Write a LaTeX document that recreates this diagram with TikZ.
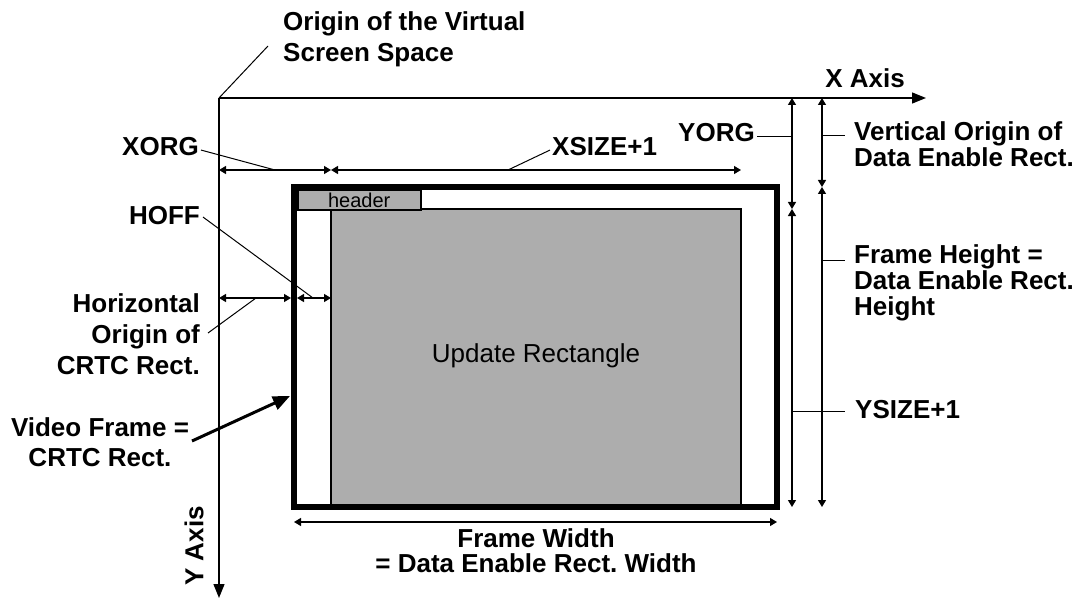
\documentclass[tikz,border=0pt]{standalone}
\usepackage{fontspec}
\setmainfont{Liberation Sans}
\usetikzlibrary{arrows.meta}
\definecolor{halftone}{gray}{0.68}
\begin{document}
\frenchspacing
\begin{tikzpicture}[x=1pt,y=-1pt,
  lbl/.style={font=\fontsize{26}{31}\selectfont\bfseries, inner sep=0pt},
  axisline/.style={line width=1.3pt, -{Triangle[length=14pt,width=11pt]}},
  dimline/.style={line width=1.3pt, {Triangle[length=7pt,width=8pt]}-{Triangle[length=7pt,width=8pt]}},
  leader/.style={line width=1pt},
  framebox/.style={line width=6pt},
  areabox/.style={draw, fill=halftone, line width=1.8pt},
]
\useasboundingbox (0,0) rectangle (1085,599);

% axes
\coordinate (O) at (219,98);
\coordinate (Xend) at (926,98);
\coordinate (Yend) at (219,598);
\draw[axisline] (O) -- (Xend);
\draw[axisline] (O) -- (Yend);
\node[lbl, anchor=base] (xax) at (865,88) {X Axis};
\node[lbl, rotate=90] (yax) at (194,546) {Y Axis};

% origin label (base = last line)
\node[lbl, align=left, anchor=base west, font=\fontsize{26}{31}\selectfont\bfseries] (orig) at (283,62) {Origin of the Virtual\\Screen Space};
\coordinate (origL) at (268,46);
\draw[leader] (O) -- (origL);

% update rectangle (data enable area)
\coordinate (U1) at (331,209);
\coordinate (U2) at (741,505);
\draw[areabox] (U1) rectangle (U2);
\node[font=\fontsize{26}{31}\selectfont, inner sep=0pt] (upd) at (536,356) {Update Rectangle};

% header
\node[draw, fill=halftone, line width=1.5pt, minimum width=123pt, minimum height=19pt,
      inner sep=0pt, anchor=north west, font=\fontsize{20}{24}\selectfont] (hdr) at (297,190) {header};

% video frame
\coordinate (F1) at (294,187);
\coordinate (F2) at (777,507);
\draw[framebox] (F1) rectangle (F2);

% XORG / XSIZE+1
\coordinate (xo1) at (219,170);
\coordinate (xo2) at (331,170);
\coordinate (xs2) at (741,170);
\draw[dimline] (xo1) -- (xo2);
\draw[dimline] (xo2) -- (xs2);
\node[lbl, anchor=base east] (xorg) at (199,156) {XORG};
\coordinate (xorgP) at (275,170);
\draw[leader] ([xshift=2pt,yshift=-3pt]xorg.east) -- (xorgP);
\node[lbl, anchor=base west] (xsize) at (552,156) {XSIZE+1};
\coordinate (xsizeP) at (508,170);
\draw[leader] ([xshift=-2pt,yshift=-3pt]xsize.west) -- (xsizeP);

% horizontal origin / HOFF
\coordinate (ho1) at (219,298);
\coordinate (ho2) at (291,298);
\coordinate (hf1) at (297,298);
\coordinate (hf2) at (331,298);
\draw[dimline] (ho1) -- (ho2);
\draw[dimline] (hf1) -- (hf2);
\node[lbl, anchor=base east] (hoff) at (200,224) {HOFF};
\coordinate (hoffP) at (313,298);
\draw[leader] ([xshift=3pt,yshift=-2pt]hoff.east) -- (hoffP);
\node[lbl, align=right, anchor=base east, font=\fontsize{26}{31}\selectfont\bfseries] (horg) at (200,374) {Horizontal\\Origin of\\CRTC Rect.};
\coordinate (horgS) at (208,333);
\coordinate (horgP) at (256,298);
\draw[leader] (horgS) -- (horgP);

% video frame label
\node[lbl, align=center, anchor=base, font=\fontsize{26}{30}\selectfont\bfseries] (vf) at (100,466) {Video Frame =\\CRTC Rect.};
\coordinate (vfS) at (192,441);
\coordinate (vfT) at (290,396);
\draw[line width=3pt, -{Triangle[length=17pt,width=14pt]}] (vfS) -- (vfT);

% right dimensions
\coordinate (yo1) at (792,98);
\coordinate (yo2) at (792,209);
\coordinate (yo3) at (792,507);
\coordinate (vo1) at (822,98);
\coordinate (vo2) at (822,187);
\coordinate (vo3) at (822,507);
\draw[dimline] (yo1) -- (yo2);
\draw[dimline] (yo2) -- (yo3);
\draw[dimline] (vo1) -- (vo2);
\draw[dimline] (vo2) -- (vo3);

\node[lbl, anchor=base east] (yorg) at (755,142) {YORG};
\draw[leader] ([xshift=2pt,yshift=-3pt]yorg.east) -- ([yshift=-3pt]yorg.east -| yo1);

\node[lbl, align=left, anchor=base west, font=\fontsize{26}{26}\selectfont\bfseries] (vorg) at (854,167) {Vertical Origin of\\Data Enable Rect.};
\coordinate (vorgT) at (845,136);
\draw[leader] (vorgT -| vo1) -- (vorgT);

\node[lbl, align=left, anchor=base west, font=\fontsize{26}{26}\selectfont\bfseries] (fh) at (854,315) {Frame Height =\\Data Enable Rect.\\Height};
\coordinate (fhT) at (845,260);
\draw[leader] (fhT -| vo1) -- (fhT);

\node[lbl, anchor=base west] (ysize) at (855,418) {YSIZE+1};
\coordinate (ysT) at (845,411);
\draw[leader] (ysT -| yo1) -- (ysT);

% frame width
\coordinate (fw1) at (294,522);
\coordinate (fw2) at (777,522);
\draw[dimline] (fw1) -- (fw2);
\node[lbl, align=center, anchor=base, font=\fontsize{26}{25}\selectfont\bfseries] (fw) at (536,572) {Frame Width\\= Data Enable Rect. Width};
\end{tikzpicture}
\end{document}
